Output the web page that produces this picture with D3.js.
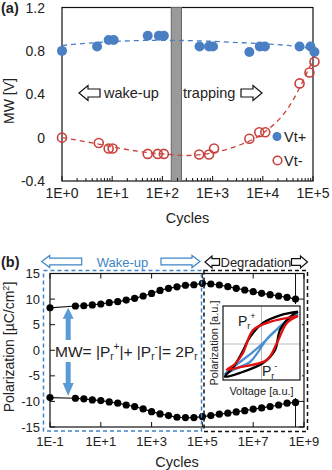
<!DOCTYPE html>
<html><head><meta charset="utf-8">
<script src="https://cdn.jsdelivr.net/npm/d3@7"></script>
<style>
body{margin:0;background:#fff;}
text{font-family:"Liberation Sans",Arial,sans-serif;fill:#222;}
</style></head><body>
<script>
// ---- panel (a) data: threshold voltages vs cycles
const cyclesVtPlus = [1, 5, 8.5, 10.7, 51, 85, 107, 550, 850, 1020, 5400, 8700, 11000, 54000, 89000, 107000];
const vtPlus = [0.80, 0.84, 0.90, 0.90, 0.94, 0.94, 0.94, 0.84, 0.84, 0.84, 0.79, 0.84, 0.84, 0.84, 0.84, 0.79];
const cyclesVtMinus = [1, 5.4, 8.5, 10.2, 51, 81, 107, 540, 850, 1070, 5400, 8500, 11200, 54000, 85000, 107000];
const vtMinus = [0, -0.05, -0.10, -0.10, -0.15, -0.15, -0.15, -0.155, -0.155, -0.10, -0.01, 0.05, 0.05, 0.50, 0.60, 0.70];
// dashed trend lines, read at half-decade steps
const trendCycles = [1, 3.16, 10, 31.6, 100, 316, 1000, 3162, 10000, 31623, 100000];
const trendPlus = [0.85, 0.87, 0.885, 0.895, 0.898, 0.895, 0.888, 0.877, 0.865, 0.85, 0.82];
const trendMinus = [0, -0.04, -0.085, -0.125, -0.15, -0.165, -0.14, -0.075, 0.04, 0.27, 0.72];
const barCycles = [150, 240];
const yTicksA = [-0.4, 0, 0.4, 0.8, 1.2];
const xTickLabelsA = ["1E+0", "1E+1", "1E+2", "1E+3", "1E+4", "1E+5"];

// ---- panel (b) data: remanent polarization vs cycles
const cyclesB = [0.1, 1, 2.15, 4.64, 10, 21.5, 46.4, 100, 215, 464, 1e3, 2.15e3, 4.64e3, 1e4, 2.15e4, 4.64e4,
  1e5, 2.15e5, 4.64e5, 1e6, 2.15e6, 4.64e6, 1e7, 2.15e7, 4.64e7, 1e8, 2.15e8, 4.64e8];
const polUpper = [8.3, 8.65, 8.7, 8.85, 9.04, 9.3, 9.5, 9.8, 10.15, 10.6, 11.1, 11.7, 12.1, 12.4, 12.7, 12.8,
  13.08, 12.95, 12.75, 12.43, 12.1, 11.78, 11.45, 11.13, 10.86, 10.6, 10.35, 10.0];
const polLower = [-9.25, -9.38, -9.5, -9.7, -9.84, -10.1, -10.35, -10.7, -11.0, -11.47, -12.0, -12.44, -12.77, -13.09, -13.15, -13.15,
  -12.96, -12.77, -12.5, -12.3, -12.05, -11.8, -11.5, -11.27, -11.0, -10.7, -10.35, -10.2];
const yTicksB = [-15, -10, -5, 0, 5, 10, 15];
const xTickLabelsB = ["1E-1", "1E+1", "1E+3", "1E+5", "1E+7", "1E+9"];

// ---- inset hysteresis loops (normalised voltage, polarization), upper branch then lower branch
const loopBlack = [[0.95,0.95],[0.5,0.85],[0.04,0.62],[-0.3,0.2],[-0.51,-0.26],[-0.74,-0.7],[-0.95,-0.96],
  [-0.56,-0.85],[0.04,-0.56],[0.35,-0.18],[0.48,0.41],[0.74,0.8],[0.95,0.95]];
const loopBlue = [[0.95,0.88],[0.61,0.65],[0.3,0.32],[0.04,0.03],[-0.25,-0.26],[-0.56,-0.53],[-0.82,-0.76],[-0.95,-0.88],
  [-0.69,-0.74],[-0.3,-0.53],[-0.09,-0.24],[0.12,0.12],[0.38,0.41],[0.69,0.7],[0.95,0.88]];
const loopRed = [[0.95,0.82],[0.22,0.65],[-0.22,0.41],[-0.48,-0.26],[-0.69,-0.59],[-0.9,-0.76],
  [-0.56,-0.68],[0.14,-0.47],[0.4,0.03],[0.66,0.62],[0.95,0.82]];

const blue = "#4a7fc4", red = "#c8413c", wakeBlue = "#3d85c6";

const svg = d3.select("body").append("svg").attr("width", 332).attr("height", 470);

function blockArrow(g, xTail, xTip, yc, hl, hh, sh, col) {
  const d = xTip > xTail ? 1 : -1, xb = xTip - d * hl;
  const pts = [[xTail, yc - sh], [xb, yc - sh], [xb, yc - hh], [xTip, yc], [xb, yc + hh], [xb, yc + sh], [xTail, yc + sh]];
  g.append("path").attr("d", d3.line()(pts) + "Z").attr("fill", "#fff").attr("stroke", col).attr("stroke-width", 1.2);
}

// ================= panel (a)
const xA = d3.scaleLog().domain([1, 1e5]).range([62, 313]);
const yA = d3.scaleLinear().domain([-0.4, 1.2]).range([181, 7.5]);
const gA = svg.append("g");

gA.append("rect").attr("x", 62).attr("y", 7.5).attr("width", 251).attr("height", 173.5)
  .attr("fill", "none").attr("stroke", "#111").attr("stroke-width", 1.2);

// gray bar
gA.append("rect").attr("x", xA(barCycles[0])).attr("y", 7.5)
  .attr("width", xA(barCycles[1]) - xA(barCycles[0])).attr("height", 173.5)
  .attr("fill", "#9a9a9a").attr("stroke", "#666").attr("stroke-width", 1);

// bottom ticks (inside)
for (let dd = 0; dd < 5; dd++) {
  for (let k = 2; k < 10; k++) {
    const x = xA(k * Math.pow(10, dd));
    gA.append("line").attr("x1", x).attr("x2", x).attr("y1", 181).attr("y2", 178).attr("stroke", "#111");
  }
}
for (let dd = 0; dd <= 5; dd++) {
  const x = xA(Math.pow(10, dd));
  gA.append("line").attr("x1", x).attr("x2", x).attr("y1", 181).attr("y2", 176).attr("stroke", "#111");
  gA.append("text").attr("x", x).attr("y", 198).attr("text-anchor", "middle")
    .attr("font-size", 14).text(xTickLabelsA[dd]);
}
yTicksA.forEach(v => {
  gA.append("text").attr("x", 45).attr("y", yA(v) + 5).attr("text-anchor", "end")
    .attr("font-size", 14).text(v === 0 ? "0" : v.toFixed(1));
});
gA.append("text").attr("x", 187.5).attr("y", 223).attr("text-anchor", "middle").attr("font-size", 14.5).text("Cycles");
gA.append("text").attr("transform", "translate(14,101) rotate(-90)").attr("text-anchor", "middle")
  .attr("font-size", 14).text("MW [V]");
gA.append("text").attr("x", 1).attr("y", 13).attr("font-size", 14.5).attr("font-weight", "bold").text("(a)");

// trend lines
const trendLine = d3.line().x((d, i) => xA(trendCycles[i])).curve(d3.curveMonotoneX);
gA.append("path").attr("d", trendLine.y(d => yA(d))(trendPlus))
  .attr("fill", "none").attr("stroke", blue).attr("stroke-width", 1.3).attr("stroke-dasharray", "5,4");
gA.append("path").attr("d", trendLine.y(d => yA(d))(trendMinus))
  .attr("fill", "none").attr("stroke", red).attr("stroke-width", 1.3).attr("stroke-dasharray", "5,4");

gA.selectAll(".vtp").data(vtPlus).enter().append("circle")
  .attr("cx", (d, i) => xA(cyclesVtPlus[i])).attr("cy", d => yA(d)).attr("r", 5).attr("fill", blue);
gA.selectAll(".vtm").data(vtMinus).enter().append("circle")
  .attr("cx", (d, i) => xA(cyclesVtMinus[i])).attr("cy", d => yA(d)).attr("r", 4.5)
  .attr("fill", "none").attr("stroke", red).attr("stroke-width", 1.6);

// annotations
blockArrow(gA, 100, 79, 93, 9, 7.5, 4, "#111");
gA.append("text").attr("x", 104).attr("y", 98).attr("font-size", 14.5).text("wake-up");
gA.append("text").attr("x", 183).attr("y", 98).attr("font-size", 14.5).text("trapping");
blockArrow(gA, 241, 262, 93, 9, 7.5, 4, "#111");

// legend
gA.append("circle").attr("cx", 277).attr("cy", 136.5).attr("r", 4.5).attr("fill", blue);
gA.append("text").attr("x", 284).attr("y", 141.5).attr("font-size", 14.5).text("Vt+");
gA.append("circle").attr("cx", 277.5).attr("cy", 160.5).attr("r", 4.3).attr("fill", "none").attr("stroke", red).attr("stroke-width", 1.6);
gA.append("text").attr("x", 284).attr("y", 165.5).attr("font-size", 14.5).text("Vt-");

// ================= panel (b)
const xB = d3.scaleLog().domain([0.1, 1e9]).range([50, 304]);
const yB = d3.scaleLinear().domain([-15, 15]).range([427, 273.5]);
const gB = svg.append("g");

gB.append("rect").attr("x", 50).attr("y", 273.5).attr("width", 254).attr("height", 153.5)
  .attr("fill", "none").attr("stroke", "#111").attr("stroke-width", 1.2);

// ticks inside on all sides
for (let e = -1; e <= 9; e += 2) {
  const x = xB(Math.pow(10, e));
  gB.append("line").attr("x1", x).attr("x2", x).attr("y1", 427).attr("y2", 422).attr("stroke", "#111");
  gB.append("line").attr("x1", x).attr("x2", x).attr("y1", 273.5).attr("y2", 278.5).attr("stroke", "#111");
  gB.append("text").attr("x", x).attr("y", 446).attr("text-anchor", "middle").attr("font-size", 13)
    .text(xTickLabelsB[(e + 1) / 2]);
}
yTicksB.forEach(v => {
  gB.append("line").attr("x1", 50).attr("x2", 55).attr("y1", yB(v)).attr("y2", yB(v)).attr("stroke", "#111");
  gB.append("line").attr("x1", 304).attr("x2", 299).attr("y1", yB(v)).attr("y2", yB(v)).attr("stroke", "#111");
  gB.append("text").attr("x", 40).attr("y", yB(v) + 4.5).attr("text-anchor", "end").attr("font-size", 13).text(v);
});
gB.append("text").attr("x", 177).attr("y", 467).attr("text-anchor", "middle").attr("font-size", 14.5).text("Cycles");
const ylab = gB.append("text").attr("transform", "translate(14,347) rotate(-90)").attr("text-anchor", "middle")
  .attr("font-size", 14);
ylab.append("tspan").text("Polarization  [µC/cm");
ylab.append("tspan").attr("font-size", 9).attr("dy", -5).text("2");
ylab.append("tspan").attr("dy", 5).text("]");
gB.append("text").attr("x", 1).attr("y", 267).attr("font-size", 14.5).attr("font-weight", "bold").text("(b)");

// vertical line at last cycle
const xLast = xB(cyclesB[cyclesB.length - 1]);
gB.append("line").attr("x1", xLast).attr("x2", xLast).attr("y1", 273.5).attr("y2", 427).attr("stroke", "#111").attr("stroke-width", 1);

// series
const lineB = d3.line().x((d, i) => xB(cyclesB[i])).y(d => yB(d));
[polUpper, polLower].forEach(s => {
  gB.append("path").attr("d", lineB(s)).attr("fill", "none").attr("stroke", "#111").attr("stroke-width", 1.2);
  gB.selectAll(null).data(s).enter().append("circle")
    .attr("cx", (d, i) => xB(cyclesB[i])).attr("cy", d => yB(d)).attr("r", 3.6).attr("fill", "#000");
});

// dashed boxes
gB.append("rect").attr("x", 43.5).attr("y", 270.5).attr("width", 158).attr("height", 160.5)
  .attr("fill", "none").attr("stroke", wakeBlue).attr("stroke-width", 1.5).attr("stroke-dasharray", "4,3");
gB.append("rect").attr("x", 204).attr("y", 270.5).attr("width", 103.5).attr("height", 161)
  .attr("fill", "none").attr("stroke", "#111").attr("stroke-width", 1.5).attr("stroke-dasharray", "4,3");

// region arrows
blockArrow(gB, 81.7, 41.7, 261.5, 8, 6, 3.3, wakeBlue);
gB.append("text").attr("x", 122.5).attr("y", 266.5).attr("text-anchor", "middle").attr("font-size", 13)
  .style("fill", wakeBlue).text("Wake-up");
blockArrow(gB, 161, 200, 261.5, 8, 6, 3.3, wakeBlue);
blockArrow(gB, 219.5, 205, 262, 7, 6, 3.3, "#111");
gB.append("text").attr("x", 220.5).attr("y", 267).attr("font-size", 13).text("Degradation");
blockArrow(gB, 291.5, 307.5, 262, 7, 6, 3.3, "#111");

// MW arrow and text
const xArr = xB(0.52), yTop = yB(polUpper[0]), yBot = yB(polLower[0]) - 1.5;
const arrowCol = "#5b9bd5";
gB.append("path").attr("d", d3.line()([[xArr, yTop], [xArr + 5.5, yTop + 11], [xArr + 2.5, yTop + 11], [xArr + 2.5, 340],
  [xArr - 2.5, 340], [xArr - 2.5, yTop + 11], [xArr - 5.5, yTop + 11]]) + "Z").attr("fill", arrowCol);
gB.append("path").attr("d", d3.line()([[xArr, yBot], [xArr + 5.5, yBot - 13], [xArr + 2.5, yBot - 13], [xArr + 2.5, 362],
  [xArr - 2.5, 362], [xArr - 2.5, yBot - 13], [xArr - 5.5, yBot - 13]]) + "Z").attr("fill", arrowCol);
const mw = gB.append("text").attr("x", 55).attr("y", 357).attr("font-size", 15.5);
mw.append("tspan").text("MW= |P");
mw.append("tspan").attr("font-size", 10).attr("dy", 3).text("r");
mw.append("tspan").attr("font-size", 10).attr("dy", -10).text("+");
mw.append("tspan").attr("dy", 7).text("|+ |P");
mw.append("tspan").attr("font-size", 10).attr("dy", 3).text("r");
mw.append("tspan").attr("font-size", 10).attr("dy", -10).text("-");
mw.append("tspan").attr("dy", 7).text("|= 2P");
mw.append("tspan").attr("font-size", 10).attr("dy", 3).text("r");

// ---- inset
const xI = d3.scaleLinear().domain([-1, 1]).range([223, 300]);
const yI = d3.scaleLinear().domain([-1, 1]).range([378, 310]);
const gI = gB.append("g");
gI.append("rect").attr("x", 206).attr("y", 304).attr("width", 96).attr("height", 94).attr("fill", "#fff");
gI.append("line").attr("x1", xI(0)).attr("x2", xI(0)).attr("y1", 306).attr("y2", 380).attr("stroke", "#bbb");
gI.append("line").attr("x1", 223).attr("x2", 300).attr("y1", yI(0)).attr("y2", yI(0)).attr("stroke", "#bbb");
const loopLine = d3.line().x(d => xI(d[0])).y(d => yI(d[1])).curve(d3.curveCatmullRom);
[[loopBlue, "#4a8fd0"], [loopBlack, "#000"], [loopRed, "#e01010"]].forEach(([l, c]) => {
  gI.append("path").attr("d", loopLine(l)).attr("fill", "none").attr("stroke", c).attr("stroke-width", 2.3);
});
gI.append("rect").attr("x", 223).attr("y", 306).attr("width", 77).attr("height", 74)
  .attr("fill", "none").attr("stroke", "#111").attr("stroke-width", 1.2);
const prp = gI.append("text").attr("x", 238).attr("y", 326).attr("font-size", 14);
prp.append("tspan").text("P");
prp.append("tspan").attr("font-size", 9).attr("dy", 3).text("r");
prp.append("tspan").attr("font-size", 9).attr("dy", -10).text("+");
const prm = gI.append("text").attr("x", 262).attr("y", 376).attr("font-size", 14);
prm.append("tspan").text("P");
prm.append("tspan").attr("font-size", 9).attr("dy", 3).text("r");
prm.append("tspan").attr("font-size", 9).attr("dy", -10).text("-");
gI.append("text").attr("x", 261.5).attr("y", 395).attr("text-anchor", "middle").attr("font-size", 11).text("Voltage [a.u.]");
gI.append("text").attr("transform", "translate(218,343) rotate(-90)").attr("text-anchor", "middle")
  .attr("font-size", 11).text("Polarization [a.u.]");
</script>
</body></html>
